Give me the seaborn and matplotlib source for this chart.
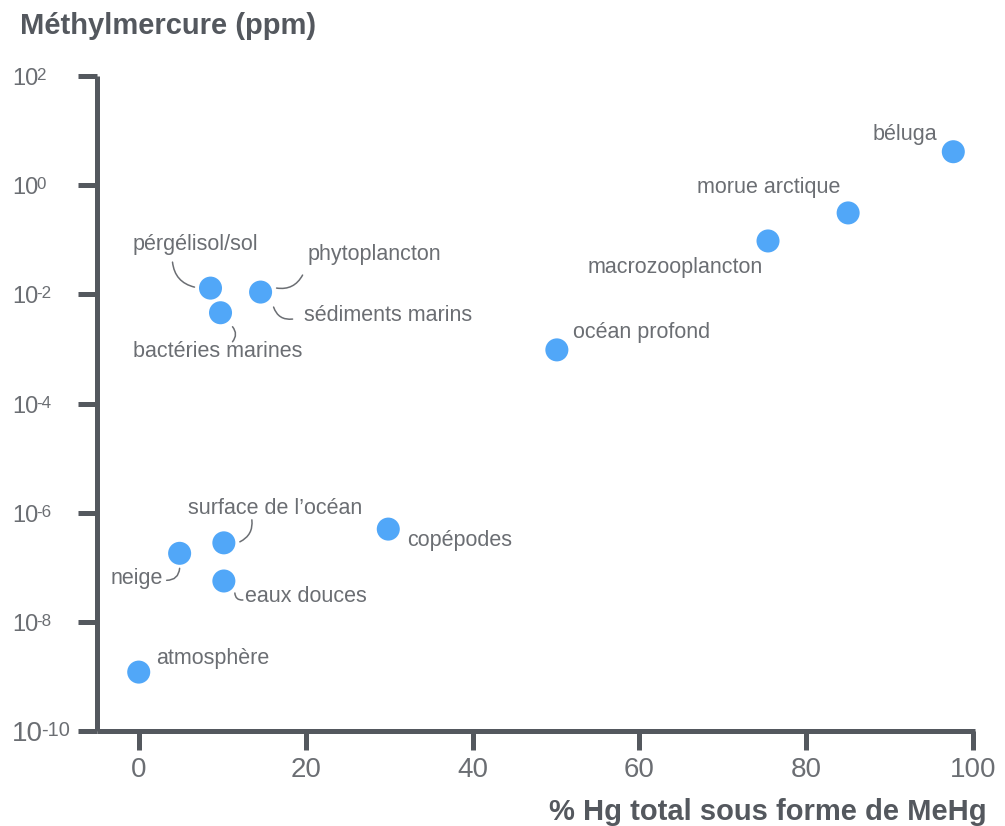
import matplotlib
matplotlib.use("Agg")
import matplotlib.pyplot as plt
import seaborn as sns
import pandas as pd
import numpy as np
from matplotlib.ticker import FixedLocator
from matplotlib.transforms import blended_transform_factory, offset_copy

# Compartments and their methylmercury characteristics
compartments = ["béluga", "morue arctique", "macrozooplancton", "océan profond",
                "pérgélisol/sol", "phytoplancton", "bactéries marines",
                "copépodes", "surface de l’océan", "neige", "eaux douces",
                "atmosphère"]
pct_mehg = [97.6, 85.0, 75.4, 50.1, 8.6, 14.6, 9.8, 29.9, 10.2, 4.9, 10.2, 0.0]
mehg_ppm = [4.1, 0.31, 0.095, 9.6e-4, 1.3e-2, 1.1e-2, 4.6e-3,
            5.0e-7, 2.8e-7, 1.8e-7, 5.6e-8, 1.2e-9]

x_ticks = [0, 20, 40, 60, 80, 100]
y_exponents = [-10, -8, -6, -4, -2, 0, 2]

df = pd.DataFrame({"compartiment": compartments, "pct": pct_mehg, "ppm": mehg_ppm})

AXIS = "#54585e"
TEXT = "#6b6e73"
DOT = "#51a7f8"

sns.set_theme(style="ticks")
plt.rcParams["font.family"] = ["Liberation Sans", "DejaVu Sans"]

W, H = 1005, 826
fig = plt.figure(figsize=(W / 100, H / 100), dpi=100)
ax = fig.add_axes([97 / W, 1 - 731 / H, (975 - 97) / W, (731 - 76) / H])

sns.scatterplot(data=df, x="pct", y="ppm", ax=ax, s=275, color=DOT,
                edgecolor="none", linewidth=0, zorder=3, legend=False)

ax.set_yscale("log")
ax.set_xlim(-5, 100.2)
ax.set_ylim(1e-10, 1e2)
ax.xaxis.set_major_locator(FixedLocator(x_ticks))
ax.yaxis.set_major_locator(FixedLocator([10.0 ** e for e in y_exponents]))
ax.yaxis.set_minor_locator(FixedLocator([]))
ax.set_xlabel("")
ax.set_ylabel("")

for side in ("top", "right"):
    ax.spines[side].set_visible(False)
for side in ("left", "bottom"):
    ax.spines[side].set_color(AXIS)
    ax.spines[side].set_linewidth(3.6)
    ax.spines[side].set_capstyle("butt")

ax.tick_params(axis="both", which="major", length=13.5, width=3.6,
               color=AXIS, labelcolor=TEXT)
ax.tick_params(axis="x", pad=5, labelsize=20)
ax.tick_params(axis="y", labelleft=False)

# Power-of-ten labels on the y axis: base "10" plus a raised exponent,
# left-aligned at a common edge
ylab_trans = offset_copy(blended_transform_factory(fig.transFigure, ax.transData),
                         fig=fig, x=0, y=-3, units="dots")
for e in y_exponents:
    fs = 20 if e == y_exponents[0] else 17
    base = ax.text(12 / W, 10.0 ** e, "10", transform=ylab_trans, ha="left",
                   va="center", fontsize=fs, color=TEXT, clip_on=False)
    ax.annotate(str(e), xy=(1, 1), xycoords=base, xytext=(-2, 0),
                textcoords="offset pixels", ha="left", va="top",
                fontsize=fs * 0.72, color=TEXT, annotation_clip=False)

# Label placement: (dx, dy) offsets in pixels from each dot, horizontal alignment
label_layout = {
    "béluga": (-16, 17, "right"),
    "morue arctique": (-8, 25, "right"),
    "macrozooplancton": (-5, -27, "right"),
    "océan profond": (16, 17, "left"),
    "pérgélisol/sol": (-78, 44, "left"),
    "phytoplancton": (47, 38, "left"),
    "bactéries marines": (-88, -39, "left"),
    "copépodes": (19, -11, "left"),
    "surface de l’océan": (-36, 34, "left"),
    "neige": (-17, -25, "right"),
    "eaux douces": (21, -16, "left"),
    "atmosphère": (17, 14, "left"),
}
extra_labels = {"phytoplancton": ("sédiments marins", (43, -23, "left"))}


def place(name, px, py, layout):
    dx, dy, ha = layout
    ax.annotate(name, xy=(px, py), xytext=(dx, dy), textcoords="offset pixels",
                ha=ha, va="center", fontsize=15.5, color=TEXT, zorder=4)


for name, px, py in zip(compartments, pct_mehg, mehg_ppm):
    place(name, px, py, label_layout[name])
    if name in extra_labels:
        other, lay = extra_labels[name]
        place(other, px, py, lay)

# Curved leader lines: start offset, end offset (pixels), curvature
leaders = {
    "pérgélisol/sol": [((-38, 26), (-16, 1), 0.35)],
    "phytoplancton": [((42, 17), (16, 4), -0.35), ((13, -15), (32, -27), 0.4)],
    "bactéries marines": [((12, -14), (12, -29), -0.4)],
    "surface de l’océan": [((28, 23), (16, 1), -0.35)],
    "neige": [((0, -15), (-13, -27), -0.45)],
    "eaux douces": [((11, -12), (19, -19), 0.5)],
}
for name, px, py in zip(compartments, pct_mehg, mehg_ppm):
    for (s, e, rad) in leaders.get(name, []):
        base = ax.transData.transform((px, py))
        p0 = ax.transData.inverted().transform(base + np.array(s))
        p1 = ax.transData.inverted().transform(base + np.array(e))
        ax.annotate("", xy=p1, xytext=p0,
                    arrowprops=dict(arrowstyle="-", color=TEXT, lw=1.1,
                                    shrinkA=0, shrinkB=0,
                                    connectionstyle=f"arc3,rad={rad}"),
                    zorder=2)

fig.text(20 / W, 1 - 34 / H, "Méthylmercure (ppm)", ha="left", va="baseline",
         fontsize=21, fontweight="bold", color=AXIS)
fig.text(987 / W, 1 - 820 / H, "% Hg total sous forme de MeHg", ha="right",
         va="baseline", fontsize=21, fontweight="bold", color=AXIS)

fig.savefig("out.png", dpi=100, facecolor="white")
